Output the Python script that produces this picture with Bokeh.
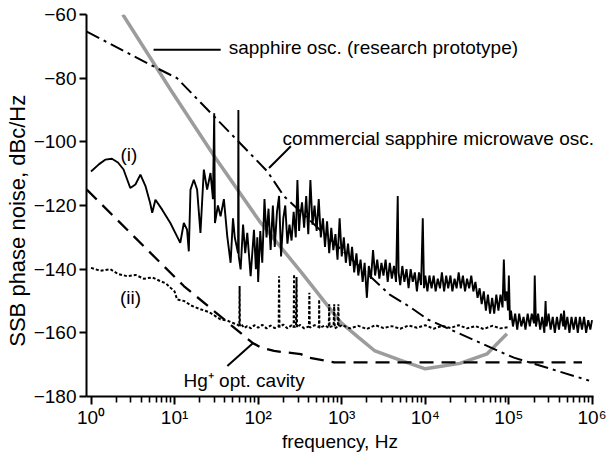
from bokeh.plotting import figure
from bokeh.models import FixedTicker, Label
from bokeh.embed import file_html
from bokeh.resources import INLINE

# ---------------- data ----------------
# curve (i): measured noisy spectrum
freq_i = [1.0, 1.25, 1.48, 1.78, 2.1, 2.45, 2.95, 3.4, 3.9, 4.5, 5.1, 5.4, 5.9, 7.1, 8.9, 10.7,
          11.7, 12.9, 14.1, 14.8, 15.5, 17.0, 18.6, 20.4, 22.4, 24.5, 26.9, 28.8, 29.8, 30.4, 33.0,
          35.5, 38.9, 42.7, 46.8, 50.0, 52.5, 57.5, 58.0, 58.6, 61.7, 66.0, 70.0, 74.1, 81.3, 89.1,
          94.0, 97.7,
          100, 106, 112, 119, 126, 133, 141, 150, 158, 168, 178, 188, 200, 211, 224, 237, 251, 266,
          282, 295, 309, 316, 335, 355, 376, 398, 422, 447, 473, 501, 531, 562, 596, 631, 668, 708,
          750, 794, 841, 891, 944, 1000, 1060, 1120, 1190, 1260, 1330, 1410, 1500, 1580, 1680, 1780,
          1880, 2000, 2110, 2240, 2370, 2510, 2660, 2820, 2990, 3160, 3350, 3550, 3760, 3980, 4220,
          4470, 4680, 4790, 5010, 5310, 5620, 5960, 6310, 6680, 7080, 7500, 7940, 8410, 8910, 9330,
          9660, 10000, 10600, 11200, 11900, 12600, 13300, 14100, 15000, 15800, 16800, 17800, 18800,
          20000, 21100, 22400, 23700, 25100, 26600, 28200, 29900, 31600, 33500, 35500, 37600, 39800,
          42200, 44700, 47300, 50100, 53100, 56200, 59600, 63100, 66800, 70800, 75000, 79400, 84100,
          87100, 90200, 94400, 97700, 100000, 103000, 106000, 112000, 119000, 126000, 133000, 141000,
          150000, 158000, 168000, 178000, 188000, 200000, 204000, 211000, 224000, 237000, 251000,
          266000, 275000, 282000, 299000, 316000, 335000, 355000, 376000, 398000, 422000, 447000,
          457000, 473000, 501000, 531000, 562000, 596000, 631000, 668000, 708000, 750000, 794000,
          841000, 891000, 944000, 989000]
db_i = [-109.3, -107.0, -105.6, -105.3, -106.5, -108.7, -114.5, -113.4, -110.3, -114.0, -119.2,
        -122.3, -118.2, -121.3, -125.5, -129.7, -131.7, -125.5, -127.6, -134.4, -115.0, -111.9,
        -115.0, -128.6, -108.7, -115.0, -109.8, -118.0, -91.0, -125.5, -120.0, -123.4, -118.0,
        -129.7, -138.0, -124.0, -130.0, -135.0, -90.0, -136.0, -140.1, -126.0, -135.0, -128.6,
        -142.2, -127.6, -140.0, -130.0,
        -144, -128, -138, -118, -130, -121, -134, -120, -133, -122, -117, -136, -124, -120, -132,
        -126, -131, -122, -130, -112, -128, -124, -119, -127, -117, -129, -112, -126, -120, -128,
        -118, -130, -124, -133, -125, -135, -127, -134, -129, -137, -124, -136, -130, -138, -132,
        -139, -133, -141, -135, -142, -137, -144, -138, -149, -139, -143, -134, -142, -137, -143,
        -138, -142, -137, -144, -138, -143, -139, -144, -117, -141, -145, -139, -144, -140, -146,
        -140, -144, -141, -147, -141, -145, -124, -146, -142, -147, -142, -146, -142, -147, -143,
        -146, -141, -147, -142, -146, -142, -147, -143, -146, -141, -146, -142, -147, -143, -146,
        -142, -147, -144, -149, -146, -151, -147, -153, -148, -154, -149, -154, -148, -153, -148,
        -152, -137, -150, -147, -153, -142, -156, -153, -158, -154, -159, -154, -158, -155, -159,
        -154, -158, -154, -157, -142, -158, -154, -159, -155, -160, -150, -158, -154, -159, -155,
        -160, -155, -159, -154, -158, -153, -159, -155, -160, -155, -159, -155, -160, -155, -159,
        -155, -160, -156, -159, -156]

# curve (ii): dotted spectrum with spurs
freq_ii = [1.0, 1.3, 1.7, 2.1, 2.7, 3.4, 4.3, 5.4, 6.8, 7.9, 8.9, 10.0, 10.7, 13.0, 16.0, 20.4,
           26.0, 35.5, 43.0, 51.0, 57.0, 59.5, 60.0, 60.5, 63.0, 68.0, 74.0, 82.0, 90.0, 100.0,
           112.0, 126.0, 141.0, 158.0, 176.0, 178.0, 180.0, 200.0, 224.0, 251.0, 266.0, 269.0,
           272.0, 284.0, 288.0, 292.0, 316.0, 355.0, 405.0, 410.0, 415.0, 473.0, 534.0, 537.0,
           541.0, 631.0, 700.0, 708.0, 716.0, 800.0, 813.0, 826.0, 900.0, 912.0, 924.0, 1000,
           1260, 1580, 2000, 2510, 3160, 3980, 5010, 6310, 7940, 10000, 12600, 15800, 20000,
           25100, 31600, 39800, 50100, 63100, 79400, 100000]
db_ii = [-139.6, -140.5, -140.0, -141.5, -142.2, -141.8, -143.0, -142.6, -143.8, -144.5, -145.8,
         -147.0, -149.5, -150.0, -151.5, -152.6, -153.5, -155.8, -156.2, -157.0, -157.5, -157.8,
         -145.3, -157.8, -157.3, -158.5, -157.9, -158.6, -157.6, -158.4, -157.5, -158.6, -157.7,
         -158.5, -158.0, -142.2, -158.2, -157.4, -158.6, -157.6, -158.3, -141.6, -158.2, -158.0,
         -142.5, -158.3, -157.5, -158.6, -158.0, -147.4, -158.4, -157.6, -158.2, -149.5, -158.5,
         -157.7, -158.4, -151.0, -158.2, -157.8, -151.0, -158.6, -158.0, -151.0, -158.3, -157.5,
         -158.6, -157.8, -158.8, -157.6, -158.5, -157.9, -158.7, -157.7, -158.4, -157.6, -158.7,
         -157.8, -158.5, -157.6, -158.6, -157.9, -158.8, -157.8, -158.6, -158.2]

# sapphire osc. (research prototype) - grey
freq_proto = [2.4, 9.0, 30, 107, 320, 980, 1600, 2500, 5000, 10000, 26000, 55000, 95000]
db_proto = [-60.0, -83.7, -104.6, -125.4, -140.6, -156.8, -161.5, -165.7, -168.6, -171.3, -169.6,
            -166.6, -160.3]

# commercial sapphire microwave osc. - dash-dot
freq_comm = [0.89, 6.2, 10.7, 129, 204, 3715, 6760, 10700, 79400, 115000, 912000]
db_comm = [-65.4, -76.9, -80.0, -109.3, -117.1, -147.9, -152.1, -155.8, -166.0, -167.8, -175.0]

# Hg+ optical cavity - dashed
freq_cav = [0.89, 12.9, 64.6, 85, 107, 155, 324, 407, 813, 750000]
db_cav = [-115.0, -145.3, -160.5, -163.1, -164.6, -165.7, -166.7, -167.8, -169.3, -169.3]

x_ticks = [1, 10, 100, 1000, 10000, 100000, 1000000]
x_tick_labels = ["10⁰", "10¹", "10²", "10³", "10⁴", "10⁵", "10⁶"]
y_ticks = [-180, -160, -140, -120, -100, -80, -60]
y_tick_labels = ["−180", "−160", "−140", "−120", "−100", "−80", "−60"]

assert len(freq_i) == len(db_i)
assert len(freq_ii) == len(db_ii)

FONT = "Liberation Sans"

p = figure(x_axis_type="log", x_range=(0.883, 1.03e6), y_range=(-180, -60),
           frame_width=507, frame_height=382,
           min_border_left=86, min_border_right=13, min_border_top=14, min_border_bottom=56,
           output_backend="svg", toolbar_location=None)

p.grid.visible = False
p.outline_line_color = None
p.background_fill_color = "white"

p.line(freq_proto, db_proto, line_color="#9c9c9c", line_width=3.5)
p.line(freq_comm, db_comm, line_color="black", line_width=2, line_dash="14 5 3 5")
p.line(freq_cav, db_cav, line_color="black", line_width=2.3, line_dash="14 8")
p.line(freq_ii, db_ii, line_color="black", line_width=2, line_dash="3 2")
p.line(freq_i, db_i, line_color="black", line_width=1.9)

# leader lines
p.line([5.6, 35.6], [-71.1, -71.1], line_color="black", line_width=2)
p.line([135, 246], [-108.2, -101.4], line_color="black", line_width=2)
p.line([42.8, 87.7], [-170.4, -163.1], line_color="black", line_width=2)

def lab(x, y, t, align="left"):
    p.add_layout(Label(x=x, y=y, text=t, text_font=FONT, text_font_size="19px",
                       text_color="black", text_baseline="middle", text_align=align))

lab(44.4, -70.3, "sapphire osc. (research prototype)")
lab(196, -99.0, "commercial sapphire microwave osc.")
lab(2.84, -104.0, "(i)", "center")
lab(2.97, -149.0, "(ii)", "center")
lab(12.8, -175.0, "Hg⁺ opt. cavity")

# axes
for ax in (p.xaxis[0], p.yaxis[0]):
    ax.axis_line_width = 2
    ax.axis_line_color = "black"
    ax.major_tick_line_width = 2
    ax.major_tick_line_color = "black"
    ax.major_tick_in = 0
    ax.major_label_text_font = FONT
    ax.major_label_text_font_size = "19px"
    ax.major_label_text_color = "black"
    ax.axis_label_text_font = FONT
    ax.axis_label_text_font_style = "normal"
    ax.axis_label_text_color = "black"

p.xaxis.ticker = FixedTicker(ticks=x_ticks,
                             minor_ticks=[m * 10 ** k for k in range(6) for m in range(2, 10)])
p.xaxis.major_label_overrides = dict(zip(x_ticks, x_tick_labels))
p.xaxis.major_tick_out = 8
p.xaxis.minor_tick_out = 6
p.xaxis.minor_tick_in = 0
p.xaxis.minor_tick_line_width = 1.6
p.xaxis.minor_tick_line_color = "black"
p.xaxis.major_label_standoff = 2
p.xaxis.axis_label = "frequency, Hz"
p.xaxis.axis_label_text_font_size = "19px"
p.xaxis.axis_label_standoff = 0

p.yaxis.ticker = FixedTicker(ticks=y_ticks)
p.yaxis.major_label_overrides = dict(zip(y_ticks, y_tick_labels))
p.yaxis.major_tick_out = 7
p.yaxis.minor_tick_line_color = None
p.yaxis.major_label_standoff = 3
# trailing no-break spaces push the centred title a little lower, as in the reference
p.yaxis.axis_label = "SSB phase noise, dBc/Hz" + "\u00a0" * 5
p.yaxis.axis_label_text_font_size = "22px"
p.yaxis.axis_label_standoff = 1

open("out.html", "w").write(file_html(p, INLINE))
